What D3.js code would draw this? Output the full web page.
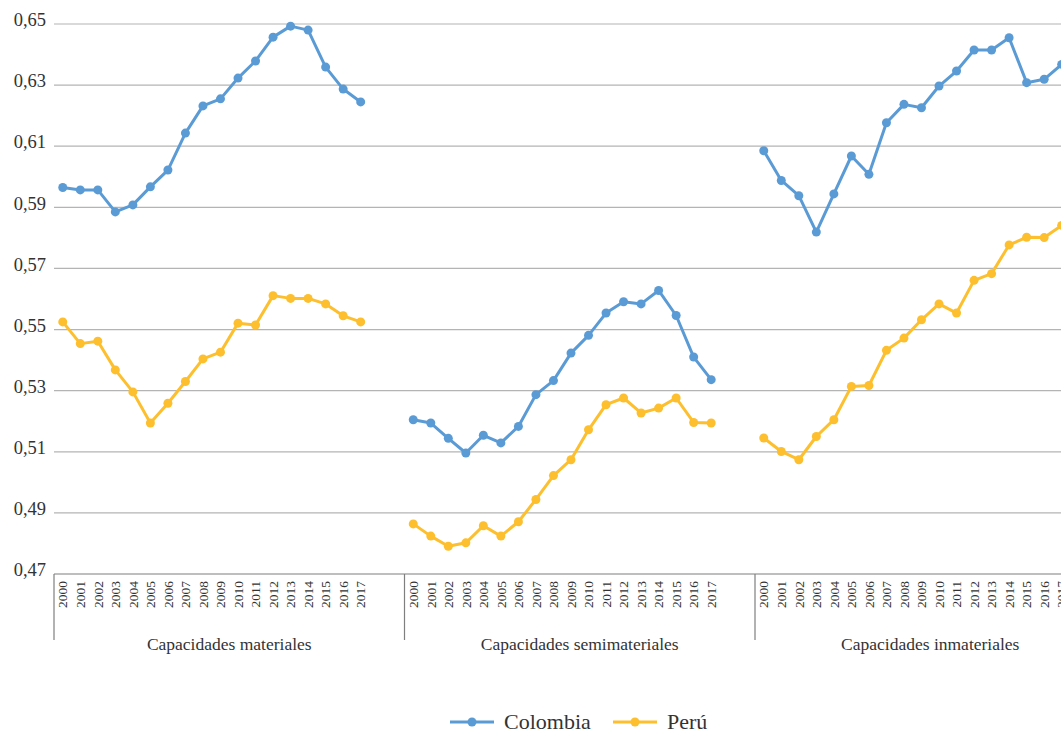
<!DOCTYPE html>
<html>
<head>
<meta charset="utf-8">
<script src="https://cdn.jsdelivr.net/npm/d3@7"></script>
<style>
  body { margin: 0; background: #fff; overflow: hidden; }
  svg { display: block; }
</style>
</head>
<body>
<svg id="chart" width="1061" height="734"></svg>
<script>
const groups = ['Capacidades materiales', 'Capacidades semimateriales', 'Capacidades inmateriales'];
const years = ['2000','2001','2002','2003','2004','2005','2006','2007','2008','2009',
  '2010','2011','2012','2013','2014','2015','2016','2017'];
const yTicks = [0.47, 0.49, 0.51, 0.53, 0.55, 0.57, 0.59, 0.61, 0.63, 0.65];

// Colombia, one array per group
const colombiaMat = [0.5965,0.5957,0.5957,0.5885,0.5908,0.5967,0.6022,0.6143,0.6232,0.6255,
  0.6323,0.6379,0.6457,0.6493,0.6480,0.6359,0.6287,0.6245];
const colombiaSemi = [0.5205,0.5194,0.5144,0.5096,0.5154,0.5129,0.5183,0.5287,0.5333,0.5423,
  0.5481,0.5554,0.5591,0.5584,0.5628,0.5546,0.5410,0.5336];
const colombiaInm = [0.6085,0.5988,0.5938,0.5819,0.5944,0.6068,0.6008,0.6177,0.6237,0.6226,
  0.6297,0.6346,0.6415,0.6415,0.6455,0.6308,0.6319,0.6368];

// Perú
const peruMat = [0.5525,0.5454,0.5462,0.5368,0.5296,0.5194,0.5259,0.5330,0.5404,0.5426,
  0.5521,0.5515,0.5611,0.5602,0.5602,0.5584,0.5545,0.5525];
const peruSemi = [0.4864,0.4824,0.4791,0.4802,0.4858,0.4824,0.4871,0.4944,0.5022,0.5074,
  0.5172,0.5254,0.5276,0.5227,0.5243,0.5276,0.5196,0.5194];
const peruInm = [0.5145,0.5101,0.5074,0.5150,0.5205,0.5314,0.5317,0.5432,0.5472,0.5532,
  0.5584,0.5554,0.5661,0.5683,0.5777,0.5802,0.5801,0.5841];

const series = [
  {name: 'Colombia', color: '#5b9bd5', values: [colombiaMat, colombiaSemi, colombiaInm]},
  {name: 'Perú', color: '#fdbf2d', values: [peruMat, peruSemi, peruInm]}
];

const FONT = "'Liberation Serif'";
const svg = d3.select('#chart');
const marginLeft = 54, marginTop = 24, plotH = 550, groupW = 350.5;

const y = d3.scaleLinear().domain([0.47, 0.65]).range([marginTop + plotH, marginTop]);
const xGroup = d3.scaleBand().domain(groups).range([marginLeft, marginLeft + groupW * 3]).padding(0);
const xYear = d3.scaleBand().domain(years).range([0, groupW]).paddingOuter(1).align(0);

const fmt = d => d3.format('.2f')(d).replace('.', ',');

// gridlines
svg.append('g')
  .selectAll('line')
  .data(yTicks.slice(1))
  .join('line')
    .attr('x1', marginLeft)
    .attr('x2', 1061)
    .attr('y1', d => y(d))
    .attr('y2', d => y(d))
    .attr('stroke', '#b4b4b4')
    .attr('stroke-width', 1.2);

// y labels
svg.append('g')
  .selectAll('text')
  .data(yTicks)
  .join('text')
    .attr('x', 46)
    .attr('y', d => y(d))
    .attr('dy', '0.12em')
    .attr('text-anchor', 'end')
    .attr('font-size', 18.5)
    .attr('fill', '#333')
    .style('font-family', FONT)
    .text(fmt);

// bottom axis line and group separators
svg.append('line')
  .attr('x1', marginLeft).attr('x2', 1061)
  .attr('y1', y(0.47)).attr('y2', y(0.47))
  .attr('stroke', '#7f7f7f').attr('stroke-width', 1.2);

svg.append('g')
  .selectAll('line')
  .data(groups)
  .join('line')
    .attr('x1', d => xGroup(d))
    .attr('x2', d => xGroup(d))
    .attr('y1', y(0.47))
    .attr('y2', 640)
    .attr('stroke', '#7f7f7f')
    .attr('stroke-width', 1.2);

const cx = (g, yr) => xGroup(g) + xYear(yr) + xYear.bandwidth() / 2;

// year labels
groups.forEach(g => {
  svg.append('g')
    .selectAll('text')
    .data(years)
    .join('text')
      .attr('transform', yr => `translate(${cx(g, yr)},581) rotate(-90)`)
      .attr('dy', '0.35em')
      .attr('text-anchor', 'end')
      .attr('font-size', 13.5)
      .attr('fill', '#333')
      .style('font-family', FONT)
      .text(yr => yr);
});

// group labels
svg.append('g')
  .selectAll('text')
  .data(groups)
  .join('text')
    .attr('x', d => xGroup(d) + xGroup.bandwidth() / 2)
    .attr('y', 650)
    .attr('text-anchor', 'middle')
    .attr('font-size', 17.5)
    .attr('fill', '#333')
    .style('font-family', FONT)
    .text(d => d);

// lines and markers
const line = d3.line()
  .x(d => d.x)
  .y(d => y(d.v));

series.forEach(s => {
  const gS = svg.append('g');
  groups.forEach((g, gi) => {
    const pts = s.values[gi].map((v, i) => ({x: cx(g, years[i]), v: v}));
    gS.append('path')
      .datum(pts)
      .attr('fill', 'none')
      .attr('stroke', s.color)
      .attr('stroke-width', 3)
      .attr('stroke-linejoin', 'round')
      .attr('d', line);
    gS.append('g')
      .selectAll('circle')
      .data(pts)
      .join('circle')
        .attr('cx', d => d.x)
        .attr('cy', d => y(d.v))
        .attr('r', 4.5)
        .attr('fill', s.color);
  });
});

// legend
const legend = svg.append('g').attr('transform', 'translate(450,722)');
const legendX = [0, 163];
series.forEach((s, i) => {
  const lg = legend.append('g').attr('transform', `translate(${legendX[i]},0)`);
  lg.append('line')
    .attr('x1', 0).attr('x2', 44)
    .attr('stroke', s.color).attr('stroke-width', 3);
  lg.append('circle')
    .attr('cx', 22).attr('r', 4.5).attr('fill', s.color);
  lg.append('text')
    .attr('x', 54)
    .attr('dy', '0.33em')
    .attr('font-size', 22)
    .attr('fill', '#333')
    .style('font-family', FONT)
    .text(s.name);
});
</script>
</body>
</html>
